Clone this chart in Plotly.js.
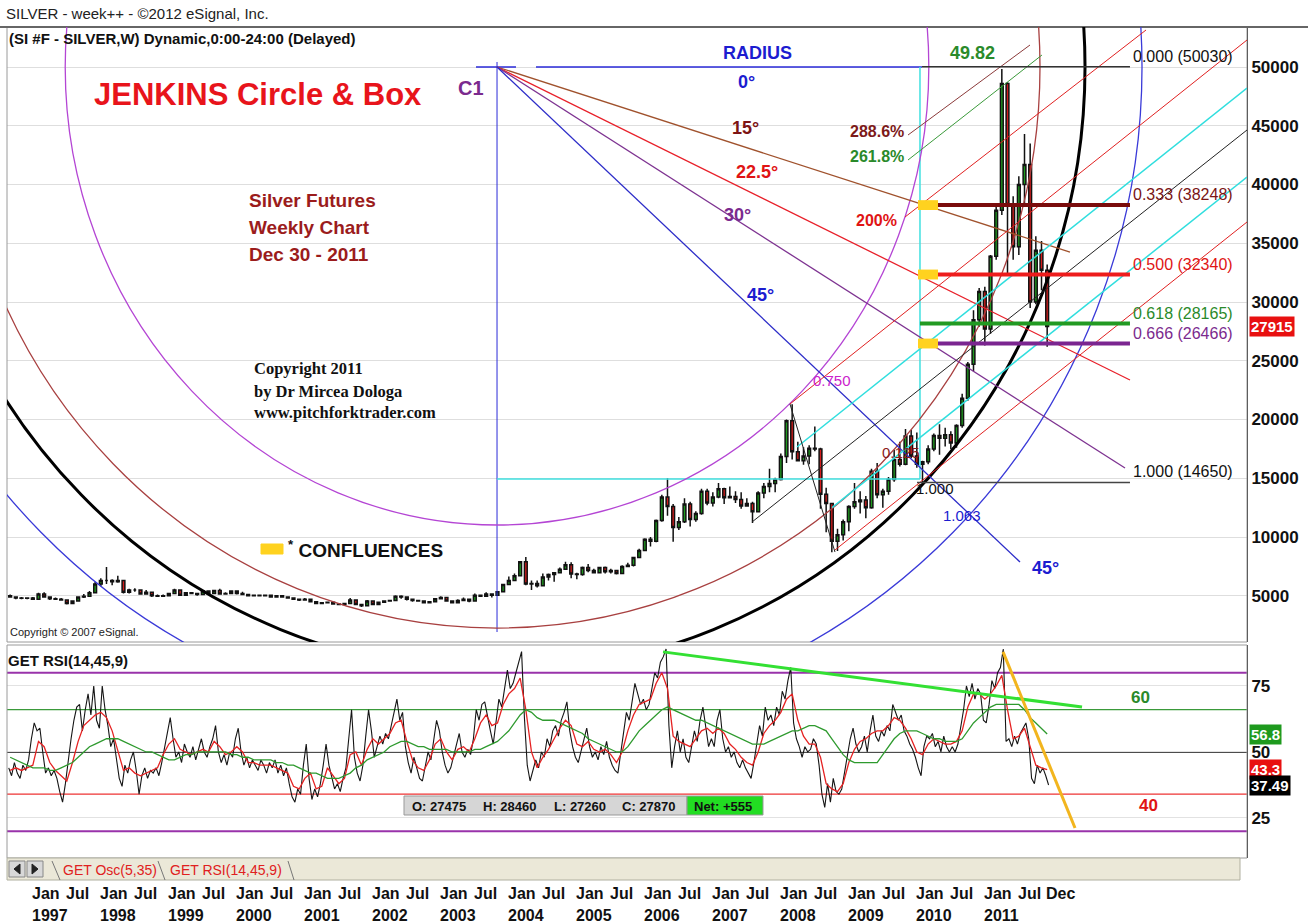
<!DOCTYPE html>
<html><head><meta charset="utf-8">
<script src="https://cdn.plot.ly/plotly-3.0.1.min.js"></script>
<style>html,body{margin:0;padding:0;background:#fff}#chart{width:1308px;height:924px}</style>
</head><body><div id="chart"></div>
<script>
// ================= DATA =================
const firstMonth = 1996 + 8/12; // Sep 1996, monthly candles to Dec 2011
const priceOpen = [
5000,4900,4800,4780,
4800,4700,5150,4900,4750,4700,4650,4350,4550,4900,4950,5250,
6000,6300,6300,6200,6300,5300,5500,5500,5150,5300,5000,4950,
5000,5200,5500,5050,5250,5200,5100,5400,5200,5450,5150,5200,
5400,5200,5100,5000,5050,5000,5050,4900,5000,4900,4800,4700,
4650,4700,4500,4350,4400,4450,4300,4250,4350,4650,4250,4150,
4550,4250,4450,4550,4600,4950,4900,4700,4600,4550,4400,4500,
4750,4850,4550,4400,4600,4700,4550,5050,4950,5150,5050,5350,
5950,6300,6700,7900,6000,6050,5850,6600,6800,6950,7250,7650,
6850,6800,7400,7150,6950,7400,7050,7150,6900,7500,7600,8250,
8850,9800,9650,11400,13400,12600,10800,11300,12800,11500,12000,13900,
12900,13400,14100,13350,13450,13200,12650,12850,12150,13750,14300,14550,
14900,16850,19900,17250,16500,16900,17550,17500,13650,12850,9650,10200,
11300,12600,13000,13150,12500,15600,13600,13900,14900,16600,16200,18600,
16900,16200,16400,17500,18650,18400,18700,18000,19500,21800,24700,28500,
30900,27700,33900,37800,48600,38300,34700,40000,41700,30000,34400,32700];
const priceHigh = [
5100,4950,4900,4850,
4900,5250,5300,4950,4850,4800,4700,4600,4950,5150,5400,6200,
6500,7450,6400,6700,6350,5600,5650,5550,5500,5350,5100,5100,
5250,5600,5550,5300,5300,5250,5500,5450,5500,5600,5300,5450,
5450,5350,5150,5100,5100,5100,5100,5050,5050,4950,4850,4750,
4800,4750,4550,4450,4500,4500,4350,4400,4800,4700,4300,4650,
4600,4500,4600,4650,5050,5050,4950,4750,4650,4600,4550,4800,
4950,4900,4600,4700,4850,4750,5200,5100,5300,5200,5400,6000,
6650,6900,7950,8300,6300,6300,6900,6900,7000,7400,7900,7850,
6950,7500,7700,7300,7450,7500,7300,7200,7600,7800,8300,9000,
9900,10000,11500,13600,15000,12800,11700,13300,13000,12200,14100,14100,
13800,14600,14200,14300,13900,13800,13300,13000,13900,14600,15800,15050,
17100,20000,21300,18100,17650,17800,19400,17600,14200,12900,10700,11500,
12700,14600,13900,13500,15800,16300,14100,15100,17400,18100,19200,19100,
18900,16500,17800,18800,19600,19300,19000,19600,22200,24900,29300,31200,
31300,34000,38200,49820,48700,39000,40700,44300,43500,35600,35200,33200];
const priceLow = [
4850,4700,4700,4700,
4650,4700,4850,4650,4650,4600,4250,4300,4500,4800,4900,5200,
5800,6000,5900,6100,5200,5200,5350,5100,5100,4900,4900,4900,
5000,5200,5000,5000,5150,5000,5100,5100,5150,5100,5100,5150,
5100,5050,4950,4950,4950,4950,4850,4850,4850,4750,4650,4550,
4600,4450,4300,4300,4350,4250,4200,4200,4300,4200,4050,4150,
4200,4200,4400,4500,4550,4750,4600,4500,4500,4350,4350,4500,
4700,4500,4350,4400,4550,4450,4550,4900,4950,4850,5000,5300,
5950,6250,6650,5900,5500,5700,5800,6300,6200,6900,7200,6500,
6400,6700,7000,6900,6950,6900,6900,6800,6850,7450,7500,8200,
8800,9200,9550,11300,11800,9600,10600,11200,10900,11300,11900,12700,
12600,13300,12800,13300,12900,12400,12600,11200,12100,13300,13800,13800,
14800,16300,16600,16500,16150,16200,17300,12400,10400,8700,8800,9700,
10500,12400,12000,11600,12400,13300,12500,13600,14700,16000,16100,16700,
15900,14650,16200,17300,17000,17700,17500,17600,19300,21600,24100,27900,
26300,27300,33600,37400,32300,33600,34000,38200,29500,29800,31000,26200];
const priceClose = [
4900,4800,4780,4800,
4700,5150,4900,4750,4700,4650,4350,4550,4900,4950,5250,6000,
6300,6300,6200,6300,5300,5500,5500,5150,5300,5000,4950,5000,
5200,5500,5050,5250,5200,5100,5400,5200,5450,5150,5200,5400,
5200,5100,5000,5050,5000,5050,4900,5000,4900,4800,4700,4650,
4700,4500,4350,4400,4450,4300,4250,4350,4650,4250,4150,4550,
4250,4450,4550,4600,4950,4900,4700,4600,4550,4400,4500,4750,
4850,4550,4400,4600,4700,4550,5050,4950,5150,5050,5350,5950,
6300,6700,7900,6000,6050,5850,6600,6800,6950,7250,7650,6850,
6800,7400,7150,6950,7400,7050,7150,6900,7500,7600,8250,8850,
9800,9650,11400,13400,12600,10800,11300,12800,11500,12000,13900,12900,
13400,14100,13350,13450,13200,12650,12850,12150,13750,14300,14550,14900,
16850,19900,17250,16500,16900,17550,17500,13650,12850,9650,10200,11300,
12600,13000,13150,12500,15600,13600,13900,14900,16600,16200,18600,16900,
16200,16400,17500,18650,18400,18700,18000,19500,21800,24700,28500,30900,
27700,33900,37800,48600,38300,34700,40000,41700,30000,34400,32700,27915];
// RSI (black), two readings per month
const rsiLine = [
44,41,46,42,40,45,43,47,
55,61,58,59,50,42,44,41,43,40,35,31,38,47,55,62,67,68,58,66,72,64,75,62,
59,75,66,60,52,55,48,40,37,45,42,47,50,43,34,41,44,40,43,42,44,41,46,52,
58,63,55,48,50,46,53,50,48,52,47,51,55,50,48,52,55,60,50,46,49,45,50,48,
55,59,50,45,48,44,47,45,43,47,45,42,46,44,47,42,45,41,44,38,33,31,36,34,
45,53,40,32,36,33,38,45,53,45,40,36,38,35,40,44,55,66,48,42,39,45,56,66,
58,48,52,56,53,57,55,60,65,70,62,65,52,46,42,48,44,40,39,45,50,47,55,62,
58,50,45,42,44,48,52,57,50,48,51,49,55,66,62,68,69,63,58,53,62,70,67,75,
81,74,76,80,84,88,63,45,39,43,47,44,50,48,55,52,58,60,56,62,65,69,58,52,
48,46,50,55,59,52,48,50,47,52,49,54,48,45,43,42,50,58,65,62,70,76,72,68,
70,66,68,74,80,78,84,86,89,60,44,52,58,50,55,48,46,52,58,54,62,67,60,52,
55,52,62,66,55,50,52,48,50,46,44,47,44,42,40,46,54,60,56,67,62,64,60,67,
64,73,70,77,82,61,55,52,48,52,50,51,55,53,45,34,29,38,31,40,35,34,36,42,
48,55,59,53,50,52,56,50,58,64,56,54,58,56,60,58,68,65,62,64,58,56,53,51,
48,44,41,52,56,55,57,52,54,50,56,52,50,52,50,53,60,66,75,71,76,70,74,72,
62,61,68,77,74,80,82,89,54,55,52,56,53,57,59,61,55,40,38,45,42,44,41,37.49];
// RSI signal (red), monthly
const rsiSignal = [
43,44,43,44,
45,54,52,46,43,41,39,46,54,60,62,64,
65,63,58,50,43,44,42,41,42,43,44,49,
53,55,51,50,49,50,51,50,54,52,49,50,
52,50,46,46,45,45,45,44,43,42,37,36,
40,42,36,37,44,41,38,40,49,50,45,51,
55,53,55,57,61,62,54,47,44,43,47,53,
55,50,47,51,52,50,55,61,64,60,61,68,
72,74,78,66,50,44,48,51,55,59,62,60,
53,52,54,51,50,51,49,46,50,58,64,68,
69,70,76,80,74,56,54,53,52,55,58,59,
57,59,57,53,51,48,46,45,50,57,60,62,
65,70,72,62,56,53,53,48,38,36,35,38,
46,51,54,55,57,58,58,60,63,62,59,55,
50,49,53,55,54,53,53,54,58,67,72,72,
70,72,75,79,66,55,56,59,52,45,44,43.3];
// RSI slow average (green), monthly
const rsiSlow = [
48,47,46,45,
44,44,44,43,43,44,45,46,48,50,52,53,
54,55,55,55,54,53,52,51,50,50,49,48,
47,47,48,49,49,50,50,50,50,50,50,49,
49,48,48,47,47,47,47,46,46,45,45,44,
43,42,42,41,40,40,40,41,42,44,45,47,
48,49,50,52,53,54,54,53,52,52,51,51,
51,51,50,50,50,50,51,51,52,53,54,56,
58,61,64,66,65,63,62,62,62,61,60,59,
58,57,55,54,53,52,51,50,50,52,55,58,
60,62,64,66,67,66,65,64,63,62,62,61,
60,59,58,57,56,55,54,53,53,53,54,55,
56,57,58,58,59,60,60,59,58,55,52,49,
47,46,46,46,46,46,49,52,55,57,58,58,
58,57,56,55,55,54,54,54,55,58,61,63,
65,67,68,68,68,68,68,66,63,61,59,56.8];
const fibRatios = ['0.000','0.333','0.500','0.618','0.666','1.000'];
const fibPrices = [50030,38248,32340,28165,26466,14650];
const confluencePrices = [38248,32340,26466];
const priceTicks = [5000,10000,15000,20000,25000,30000,35000,40000,45000,50000];
const rsiTicks = [25,50,75];
const rsiLevels = [80,66,50,34,20];
const years = [1997,1998,1999,2000,2001,2002,2003,2004,2005,2006,2007,2008,2009,2010,2011];
const lastPrice = 27915;
const lastRsiValues = [56.8,43.3,37.49];
const peakLabel = '49.82';
const ohlcLabels = ['O: 27475','H: 28460','L: 27260','C: 27870'];
const netText = 'Net: +555';

// ================= LAYOUT HELPERS =================
const L = 7, T = 27, W = 1240, H = 831;
const PX = px => (px - L) / W;
const PY = py => (T + H - py) / H;
const SANS = 'Liberation Sans, Arial, sans-serif';
const SERIF = 'Liberation Serif, Times New Roman, serif';
function txt(text, px, py, size, color, o) {
  o = o || {};
  return {text, x: PX(px), y: PY(py), xref: 'paper', yref: 'paper',
    xanchor: o.anchor || 'left', yanchor: 'middle', showarrow: false,
    font: {family: o.family || SANS, size, color, weight: o.weight || 'bold'},
    borderpad: 1};
}
function pbox(x0, y0, x1, y1, fill, line) {
  return {type: 'rect', xref: 'paper', yref: 'paper', x0: PX(x0), x1: PX(x1), y0: PY(y1), y1: PY(y0),
    fillcolor: fill, line: {color: line || fill, width: 1}, layer: 'above'};
}
function pline(x0, y0, x1, y1, color, width) {
  return {type: 'line', xref: 'paper', yref: 'paper', x0: PX(x0), x1: PX(x1), y0: PY(y0), y1: PY(y1),
    line: {color, width}, layer: 'above'};
}
function ppath(pts, fill) {
  const d = 'M ' + pts.map(p => PX(p[0]) + ',' + PY(p[1])).join(' L ') + ' Z';
  return {type: 'path', xref: 'paper', yref: 'paper', path: d, fillcolor: fill, line: {color: fill, width: 1}, layer: 'above'};
}
function seg(x0, y0, x1, y1, color, width, yref) {
  return {type: 'line', xref: 'x', yref: yref || 'y', x0, y0, x1, y1, line: {color, width}, layer: 'above'};
}

const monthX = priceOpen.map((_, j) => firstMonth + (j + 0.5) / 12);
const halfX = rsiLine.map((_, i) => firstMonth + (i + 0.5) / 24);

// ================= GUIDE GEOMETRY (data coordinates: year, price) =================
const C1 = [2003.868, 50000];
const rays = [[2012.294, 34255, '#a0522d'], [2013.176, 23362, '#e8202a'], [2013.103, 15872, '#7e3391'], [2011.559, 7872, '#2c2cc8']];
const parallels = [
  [2009.912, 44213, 2011.706, 51872, '#8b3a3a', 1],
  [2009.912, 42085, 2011.882, 51021, '#3a9a3a', 1],
  [2009.868, 37234, 2013.412, 53149, '#e02020', 1],
  [2008.176, 21319, 2014.897, 52298, '#e02020', 1],
  [2008.279, 17660, 2014.897, 48213, '#30dede', 1.5],
  [2007.618, 11277, 2014.897, 44638, '#222222', 1],
  [2008.794, 12500, 2014.897, 40638, '#30dede', 1.5],
  [2008.838, 8894, 2014.897, 36809, '#e02020', 1],
  [2008.176, 21319, 2008.838, 8723, '#222222', 1]
];
const ellipses = [[6.35, 38979, '#b445d4', 1.3], [7.985, 47745, '#a84040', 1.3], [8.647, 51489, '#000000', 3], [9.485, 56000, '#3a3ad8', 1.3]];
const fibColors = ['#333333', '#7a0c0c', '#ee1c1c', '#229a22', '#7b2590', '#444444'];
const fibLabelColors = ['#111111', '#7a1414', '#e01414', '#2a8a2a', '#7b2a8e', '#111111'];
const fibWidths = [1.5, 4, 4, 4, 4, 1.5];
const fibStart = [2010.118, 2010.353, 2010.353, 2010.088, 2010.353, 2010.044];
const fibEnd = 2013.176;

const shapes = [];
shapes.push(pbox(7, 27, 1247, 642, 'rgba(0,0,0,0)', '#9a9a9a'));
shapes.push(pbox(7, 645, 1247, 858, 'rgba(0,0,0,0)', '#9a9a9a'));
shapes.push(pline(0, 27, 1308, 27, '#666', 2));
shapes.push(seg(C1[0], 50426, C1[0], 1915, '#2a2ad8', 1));
shapes.push(seg(2003.559, 50000, 2004.147, 50000, '#2a2ad8', 1.3));
shapes.push(seg(2004.441, 50000, 2010.118, 50000, '#2a2ad8', 1.3));
shapes.push(seg(2010.088, 50000, 2010.088, 14936, '#40e0e0', 1.5));
shapes.push(seg(C1[0], 14936, 2010.088, 14936, '#40e0e0', 1.5));
ellipses.forEach(e => shapes.push({type: 'circle', xref: 'x', yref: 'y', x0: C1[0] - e[0], x1: C1[0] + e[0],
  y0: C1[1] - e[1], y1: C1[1] + e[1], line: {color: e[2], width: e[3]}, layer: 'above'}));
rays.forEach(r => shapes.push(seg(C1[0], C1[1], r[0], r[1], r[2], 1.3)));
parallels.forEach(p => shapes.push(seg(p[0], p[1], p[2], p[3], p[4], p[5])));
fibPrices.forEach((v, k) => shapes.push(seg(fibStart[k], v, fibEnd, v, fibColors[k], fibWidths[k])));
confluencePrices.forEach(v => shapes.push({type: 'rect', xref: 'x', yref: 'y', x0: 2010.059, x1: 2010.353,
  y0: v - 420, y1: v + 420, fillcolor: '#ffd21f', line: {width: 0}, layer: 'above'}));
shapes.push(pbox(261, 544, 283, 554, '#ffd21f'));
const rsiLevelColors = ['#9933aa', '#3a9a3a', '#111111', '#ee3333', '#9933aa'];
const rsiLevelWidths = [2, 1.3, 1.5, 1.3, 2];
rsiLevels.forEach((v, k) => shapes.push({type: 'line', xref: 'paper', yref: 'y2', x0: 0, x1: 1, y0: v, y1: v,
  line: {color: rsiLevelColors[k], width: rsiLevelWidths[k]}, layer: 'below'}));
shapes.push(seg(2006.309, 87.9, 2012.471, 67.0, '#33e033', 3, 'y2'));
shapes.push(seg(2011.309, 87.9, 2012.368, 21.2, '#f2b51e', 3, 'y2'));
shapes.push(pbox(404, 796, 687, 815, '#d6d6d6', '#999'));
shapes.push(pbox(687, 796, 763, 815, '#22dd22', '#999'));
shapes.push(pbox(7, 858, 1240, 880, '#ebe8d8', '#b0b0a0'));
shapes.push(pbox(9, 861, 25, 877, '#d8d8d8', '#888'));
shapes.push(pbox(27, 861, 43, 877, '#d8d8d8', '#888'));
shapes.push(ppath([[20, 864], [14, 869], [20, 874]], '#222'));
shapes.push(ppath([[32, 864], [38, 869], [32, 874]], '#222'));
shapes.push(pline(52, 861, 60, 880, '#777', 1));
shapes.push(pline(158, 861, 165, 880, '#777', 1));
shapes.push(pline(288, 861, 294, 880, '#777', 1));

// ================= ANNOTATIONS =================
const ann = [];
ann.push(txt('SILVER - week++ - ©2012 eSignal, Inc.', 4, 13, 15, '#222', {weight: 'normal'}));
ann.push(txt('(SI #F - SILVER,W) Dynamic,0:00-24:00 (Delayed)', 7, 38, 15, '#111'));
ann.push(txt('JENKINS Circle &amp; Box', 92, 95, 31, '#e8141b'));
ann.push(txt('C1', 456, 88, 20, '#7b2a8e'));
ann.push(txt('RADIUS', 758, 53, 18, '#1c1cd0', {anchor: 'center'}));
ann.push(txt('0°', 746, 82, 18, '#1c1cd0', {anchor: 'center'}));
ann.push(txt('15°', 745, 128, 18, '#7d1414', {anchor: 'center'}));
ann.push(txt('22.5°', 757, 172, 18, '#e01414', {anchor: 'center'}));
ann.push(txt('30°', 737, 215, 18, '#7b2a8e', {anchor: 'center'}));
ann.push(txt('45°', 760, 295, 18, '#1c1cd0', {anchor: 'center'}));
ann.push(txt('45°', 1045, 568, 18, '#1c1cd0', {anchor: 'center'}));
ann.push(txt(peakLabel, 972, 53, 18, '#2a8a2a', {anchor: 'center'}));
ann.push(txt('288.6%', 906, 131, 16, '#7d1a1a', {anchor: 'right'}));
ann.push(txt('261.8%', 906, 157, 16, '#2a8a2a', {anchor: 'right'}));
ann.push(txt('200%', 899, 220, 16, '#e01414', {anchor: 'right'}));
ann.push(txt('0.750', 811, 380, 15, '#cc22cc', {weight: 'normal'}));
ann.push(txt('0.125', 880, 453, 15, '#8b1a1a', {weight: 'normal'}));
ann.push(txt('1.000', 914, 488, 15, '#111', {weight: 'normal'}));
ann.push(txt('1.063', 941, 515, 15, '#1c1cd0', {weight: 'normal'}));
fibRatios.forEach((r, k) => ann.push({text: r + ' (' + fibPrices[k] + ')', x: PX(1131), y: fibPrices[k], xref: 'paper', yref: 'y',
  xanchor: 'left', yanchor: 'bottom', showarrow: false, font: {family: SANS, size: 16, color: fibLabelColors[k]}}));
ann.push(txt('Silver Futures', 247, 200, 19, '#9b1c1c'));
ann.push(txt('Weekly Chart', 247, 227, 19, '#9b1c1c'));
ann.push(txt('Dec 30 - 2011', 247, 254, 19, '#9b1c1c'));
ann.push(txt('Copyright 2011', 252, 369, 16.5, '#111', {family: SERIF}));
ann.push(txt('by Dr Mircea Dologa', 252, 391, 16.5, '#111', {family: SERIF}));
ann.push(txt('www.pitchforktrader.com', 252, 412, 16.5, '#111', {family: SERIF}));
ann.push(txt('<sup>*</sup> CONFLUENCES', 286, 549, 19, '#111'));
ann.push(txt('Copyright © 2007 eSignal.', 8, 632, 11, '#222', {weight: 'normal'}));
ann.push(txt('GET RSI(14,45,9)', 6, 660, 15, '#111'));
ann.push(txt('60', 1140, 697, 17, '#2a8a2a', {anchor: 'center'}));
ann.push(txt('40', 1148, 805, 17, '#e01414', {anchor: 'center'}));
const ohlcPos = [410, 481, 552, 620];
ohlcLabels.forEach((s, k) => ann.push(txt(s, ohlcPos[k], 806, 13, '#111')));
ann.push(txt(netText, 692, 806, 13, '#111'));
ann.push(txt('GET Osc(5,35)', 61, 870, 14, '#e02020', {weight: 'normal'}));
ann.push(txt('GET RSI(14,45,9)', 168, 870, 14, '#e02020', {weight: 'normal'}));
ann.push({text: String(lastPrice), x: PX(1249), y: lastPrice, xref: 'paper', yref: 'y', xanchor: 'left', yanchor: 'middle',
  showarrow: false, bgcolor: '#e81010', borderpad: 1, font: {family: SANS, size: 15, color: '#fff', weight: 'bold'}});
const rsiBoxColors = ['#1e9a1e', '#e81010', '#000000'];
lastRsiValues.forEach((v, k) => ann.push({text: String(v), x: PX(1249), y: v, xref: 'paper', yref: 'y2', xanchor: 'left',
  yanchor: 'middle', showarrow: false, bgcolor: rsiBoxColors[k], borderpad: 1, font: {family: SANS, size: 15, color: '#fff', weight: 'bold'}}));
const xFont = {family: SANS, size: 16, color: '#111', weight: 'bold'};
years.forEach(y => {
  ann.push({text: 'Jan', x: y, y: PY(893), xref: 'x', yref: 'paper', xanchor: 'left', yanchor: 'middle', showarrow: false, font: xFont});
  ann.push({text: 'Jul', x: y + 0.5, y: PY(893), xref: 'x', yref: 'paper', xanchor: 'left', yanchor: 'middle', showarrow: false, font: xFont});
  ann.push({text: String(y), x: y, y: PY(915), xref: 'x', yref: 'paper', xanchor: 'left', yanchor: 'middle', showarrow: false, font: xFont});
});
ann.push({text: 'Dec', x: 2011 + 11/12, y: PY(893), xref: 'x', yref: 'paper', xanchor: 'left', yanchor: 'middle', showarrow: false, font: xFont});

// ================= TRACES =================
const traces = [
  {type: 'candlestick', x: monthX, open: priceOpen, high: priceHigh, low: priceLow, close: priceClose,
   xaxis: 'x', yaxis: 'y', whiskerwidth: 0, hoverinfo: 'skip', showlegend: false,
   increasing: {line: {color: '#111', width: 1.5}, fillcolor: '#1f9a1f'},
   decreasing: {line: {color: '#111', width: 1.5}, fillcolor: '#d41c1c'}},
  {type: 'scatter', mode: 'lines', x: halfX, y: rsiLine, xaxis: 'x', yaxis: 'y2', line: {color: '#151515', width: 1.1}, hoverinfo: 'skip'},
  {type: 'scatter', mode: 'lines', x: monthX, y: rsiSignal, xaxis: 'x', yaxis: 'y2', line: {color: '#e52222', width: 1.3}, hoverinfo: 'skip'},
  {type: 'scatter', mode: 'lines', x: monthX, y: rsiSlow, xaxis: 'x', yaxis: 'y2', line: {color: '#2e9a2e', width: 1.3}, hoverinfo: 'skip'}
];

const axisFont = {family: SANS, size: 17, color: '#111', weight: 'bold'};
const layout = {
  width: 1308, height: 924, margin: {l: 7, r: 61, t: 27, b: 66, pad: 0},
  paper_bgcolor: '#ffffff', plot_bgcolor: '#ffffff', showlegend: false,
  font: {family: SANS, color: '#111'},
  xaxis: {range: [1996.662, 2014.897], anchor: 'y2', showticklabels: false, showgrid: false, zeroline: false,
    ticks: '', showline: false, rangeslider: {visible: false}, fixedrange: true},
  yaxis: {domain: [0.2599, 1], range: [1064, 53404], side: 'right', tickvals: priceTicks, ticktext: priceTicks.map(String),
    gridcolor: '#dedede', showline: true, linecolor: '#222', linewidth: 1, zeroline: false, ticks: '', tickfont: axisFont, fixedrange: true},
  yaxis2: {domain: [0, 0.2563], range: [9.85, 90.5], side: 'right', tickvals: rsiTicks, ticktext: rsiTicks.map(String),
    gridcolor: '#e2e2e2', showline: true, linecolor: '#222', linewidth: 1, zeroline: false, ticks: '', tickfont: axisFont, fixedrange: true},
  shapes, annotations: ann
};
Plotly.newPlot('chart', traces, layout, {displayModeBar: false, staticPlot: true});
</script></body></html>
